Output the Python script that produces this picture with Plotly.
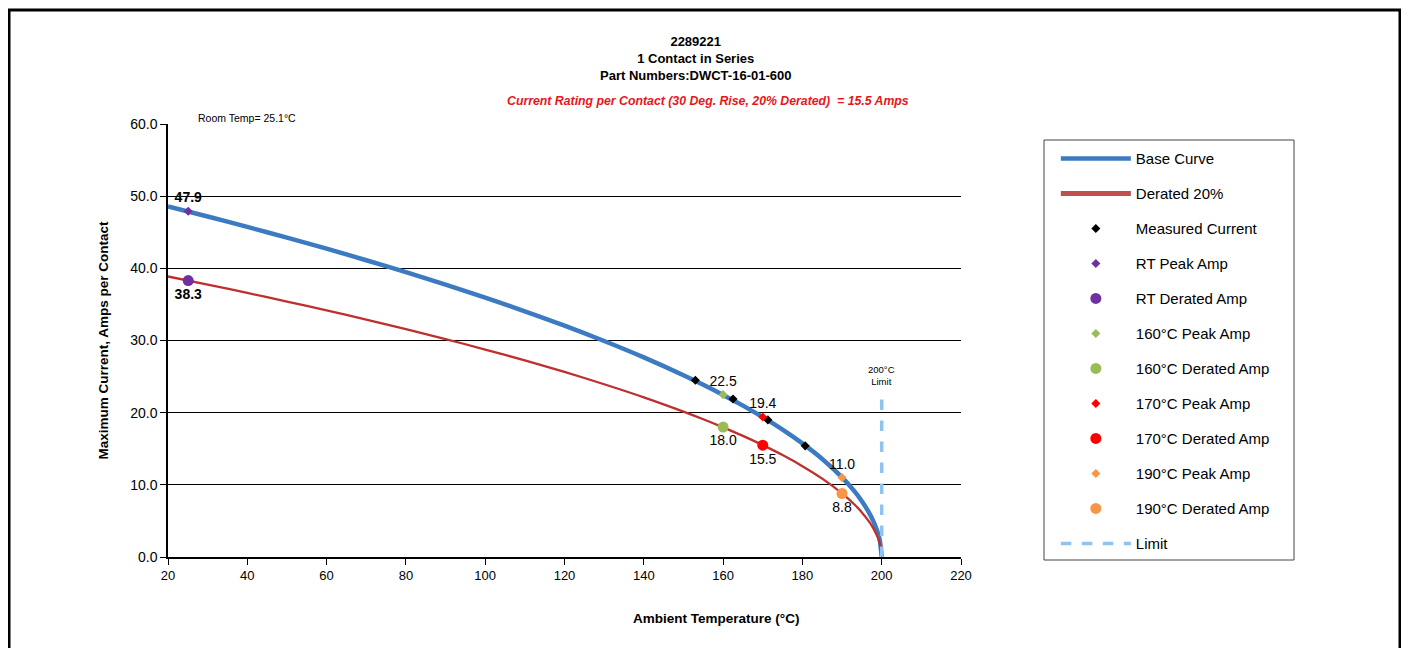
import plotly.graph_objects as go

# ---------------- data ----------------
temps = [20, 30, 40, 50, 60, 70, 80, 90, 100, 110, 120, 130, 140, 150, 155, 160, 165, 170, 175, 180, 185, 190, 193, 195, 197, 198, 199, 199.5, 200]
base_curve = [48.59, 47.19, 45.74, 44.25, 42.72, 41.12, 39.47, 37.75, 35.94, 34.05, 32.06, 29.93, 27.66, 25.19, 23.86, 22.46, 20.98, 19.38, 17.65, 15.74, 13.58, 11.03, 9.19, 7.73, 5.95, 4.83, 3.39, 2.37, 0.0]
derated_curve = [38.87, 37.75, 36.59, 35.40, 34.18, 32.90, 31.58, 30.20, 28.75, 27.24, 25.65, 23.94, 22.13, 20.15, 19.09, 17.97, 16.78, 15.50, 14.12, 12.59, 10.86, 8.82, 7.35, 6.18, 4.76, 3.86, 2.71, 1.90, 0.0]

measured_t = [153.0, 162.5, 171.3, 180.7]
measured_i = [24.5, 21.9, 19.0, 15.4]

rt_temp = 25.1
rt_peak = 47.9
rt_derated = 38.3
t160_peak, t160_derated = 22.5, 18.0
t170_peak, t170_derated = 19.4, 15.5
t190_peak, t190_derated = 11.0, 8.8

limit_t = [200, 200]
limit_i = [0, 22.7]

x_ticks = [20, 40, 60, 80, 100, 120, 140, 160, 180, 200, 220]
y_ticks = [0, 10, 20, 30, 40, 50, 60]

# ---------------- figure ----------------
FONT = "Liberation Sans, Arial, sans-serif"
NARROW = "Liberation Sans Narrow, Arial Narrow, Liberation Sans, sans-serif"

# reference pixel -> paper coordinate helpers (plot area 168..961 x 124..557)
def px(v):
    return (v - 168) / 793

def py(v):
    return (557 - v) / 433

fig = go.Figure()

def add(tr, grp):
    tr.legendgroup = grp
    fig.add_trace(tr)

lbl = dict(family=FONT, size=14, color="black")
lblb = dict(family=FONT, size=14, color="black", weight="bold")

add(go.Scatter(x=temps, y=base_curve, mode="lines", name="Base Curve",
               line=dict(color="#3C7BC2", width=4.5, shape="spline", smoothing=0.8)), "a")
# derated curve drawn thin; its legend entry uses a thicker swatch like the reference
add(go.Scatter(x=temps, y=derated_curve, mode="lines", name="Derated 20%", showlegend=False,
               line=dict(color="#BF2F2D", width=2.3, shape="spline", smoothing=0.8)), "b")
add(go.Scatter(x=[None], y=[None], mode="lines", name="Derated 20%",
               line=dict(color="#C0504D", width=5)), "b")
add(go.Scatter(x=measured_t, y=measured_i, mode="markers", name="Measured Current",
               marker=dict(symbol="diamond", color="black", size=7)), "c")
add(go.Scatter(x=[rt_temp], y=[rt_peak], mode="markers+text", name="RT Peak Amp",
               text=[f"{rt_peak:.1f}"], textposition="top center", textfont=lblb,
               marker=dict(symbol="diamond", color="#7030A0", size=7)), "d")
add(go.Scatter(x=[rt_temp], y=[rt_derated], mode="markers+text", name="RT Derated Amp",
               text=[f"{rt_derated:.1f}"], textposition="bottom center", textfont=lblb,
               marker=dict(symbol="circle", color="#7030A0", size=11)), "e")
add(go.Scatter(x=[160], y=[t160_peak], mode="markers+text", name="160°C Peak Amp",
               text=[f"{t160_peak:.1f}"], textposition="top center", textfont=lbl,
               marker=dict(symbol="diamond", color="#9BBB59", size=7)), "f")
add(go.Scatter(x=[160], y=[t160_derated], mode="markers+text", name="160°C Derated Amp",
               text=[f"{t160_derated:.1f}"], textposition="bottom center", textfont=lbl,
               marker=dict(symbol="circle", color="#9BBB59", size=11)), "g")
add(go.Scatter(x=[170], y=[t170_peak], mode="markers+text", name="170°C Peak Amp",
               text=[f"{t170_peak:.1f}"], textposition="top center", textfont=lbl,
               marker=dict(symbol="diamond", color="#FF0000", size=7)), "h")
add(go.Scatter(x=[170], y=[t170_derated], mode="markers+text", name="170°C Derated Amp",
               text=[f"{t170_derated:.1f}"], textposition="bottom center", textfont=lbl,
               marker=dict(symbol="circle", color="#FF0000", size=11)), "i")
add(go.Scatter(x=[190], y=[t190_peak], mode="markers+text", name="190°C Peak Amp",
               text=[f"{t190_peak:.1f}"], textposition="top center", textfont=lbl,
               marker=dict(symbol="diamond", color="#F79646", size=7)), "j")
add(go.Scatter(x=[190], y=[t190_derated], mode="markers+text", name="190°C Derated Amp",
               text=[f"{t190_derated:.1f}"], textposition="bottom center", textfont=lbl,
               marker=dict(symbol="circle", color="#F79646", size=11)), "k")
add(go.Scatter(x=limit_t, y=limit_i, mode="lines", name="Limit",
               line=dict(color="#8FC3F2", width=3.5, dash="dash")), "l")

fig.update_layout(
    width=1401, height=640,
    margin=dict(l=160, r=448, t=116, b=91),
    paper_bgcolor="white", plot_bgcolor="white",
    font=dict(family=FONT, color="black", size=13),
    showlegend=True,
    legend=dict(x=1.1196, y=0.958, xanchor="left", yanchor="top",
                bgcolor="rgba(0,0,0,0)", borderwidth=0,
                font=dict(family=FONT, size=15, color="black"),
                itemwidth=70, tracegroupgap=12.5, traceorder="grouped"),
    xaxis=dict(range=[20, 220], tickvals=x_ticks, ticktext=[str(v) for v in x_ticks],
               showgrid=False, zeroline=False, showline=True, linecolor="black", linewidth=1.5,
               ticks="outside", ticklen=6, tickcolor="black",
               tickfont=dict(family=NARROW, size=13)),
    yaxis=dict(range=[0, 60], tickvals=y_ticks, ticktext=[f"{v:.1f}" for v in y_ticks],
               showgrid=True, gridcolor="black", gridwidth=1.4,
               zeroline=False, showline=True, linecolor="black", linewidth=1.5,
               ticks="outside", ticklen=6, tickcolor="black",
               tickfont=dict(family=NARROW, size=14),
               title=dict(text="<b>Maximum Current, Amps per Contact</b>", standoff=18,
                          font=dict(family=NARROW, size=13.5))),
)

# titles and notes
fig.add_annotation(text="<b>2289221<br>1 Contact in Series<br>Part Numbers:DWCT-16-01-600</b>",
                   xref="paper", yref="paper", x=px(695), y=py(32),
                   xanchor="center", yanchor="top", showarrow=False, align="center",
                   font=dict(family=NARROW, size=13, color="black"))
fig.add_annotation(text="<b><i>Current Rating per Contact (30 Deg. Rise, 20% Derated)  = 15.5 Amps</i></b>",
                   xref="paper", yref="paper", x=px(708), y=py(101),
                   xanchor="center", yanchor="middle", showarrow=False,
                   font=dict(family=NARROW, size=12.3, color="#E8161B"))
fig.add_annotation(text=f"Room Temp= {rt_temp}°C", xref="paper", yref="paper",
                   x=px(196), y=py(118), xanchor="left", yanchor="middle",
                   showarrow=False, font=dict(family=NARROW, size=10.5, color="black"))
fig.add_annotation(text="<b>Ambient Temperature (°C)</b>", xref="paper", yref="paper",
                   x=px(716), y=py(618), xanchor="center", yanchor="middle",
                   showarrow=False, font=dict(family=NARROW, size=13.5, color="black"))
fig.add_annotation(text="200°C<br>Limit", x=200, y=limit_i[1], xref="x", yref="y",
                   yanchor="bottom", xanchor="center", yshift=4, showarrow=False,
                   font=dict(family=NARROW, size=9.5, color="black"))

# outer frame and legend box
fig.add_shape(type="rect", xref="paper", yref="paper",
              x0=px(9), x1=px(1400), y0=py(660), y1=py(10),
              line=dict(color="black", width=3), fillcolor="rgba(0,0,0,0)", layer="above")
fig.add_shape(type="rect", xref="paper", yref="paper",
              x0=px(1044), x1=px(1294), y0=py(560), y1=py(140),
              line=dict(color="#444444", width=1), fillcolor="rgba(0,0,0,0)")

fig.write_html("out.html")
